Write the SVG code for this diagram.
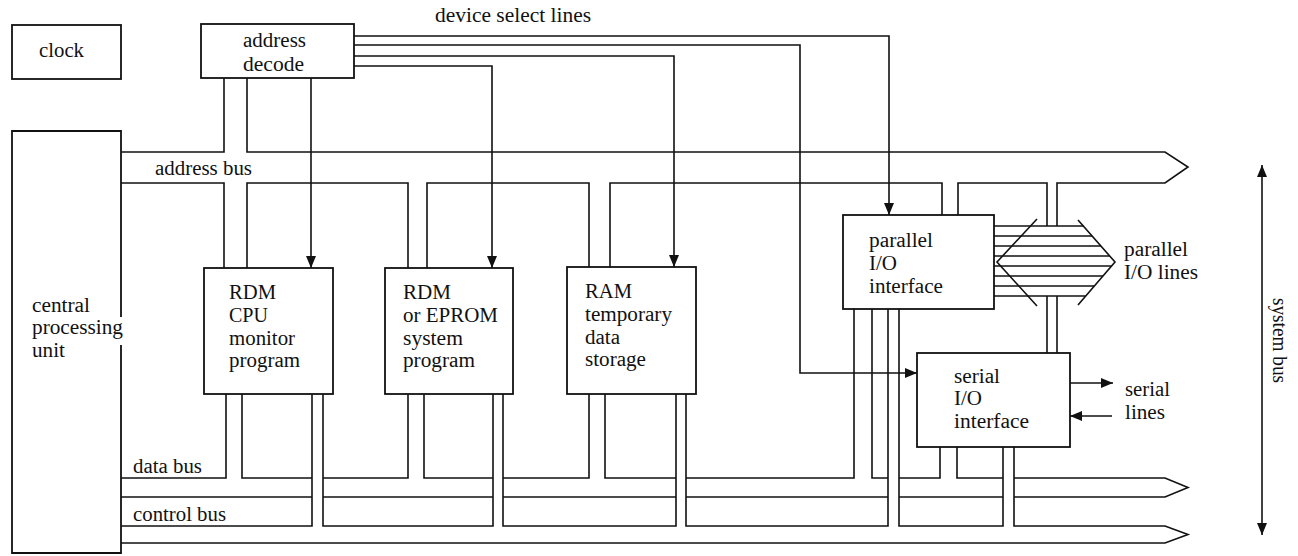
<svg xmlns="http://www.w3.org/2000/svg" width="1298" height="556" viewBox="0 0 1298 556">
<style>
.b{fill:#fff;stroke:#111;stroke-width:1.8}
.l{fill:none;stroke:#111;stroke-width:1.6;stroke-linejoin:miter}
.t{font-family:"Liberation Serif","Times New Roman",serif;font-size:20px;fill:#111}
</style>
<defs>
<marker id="ah" viewBox="0 0 12 10" refX="12" refY="5" markerWidth="12" markerHeight="10" markerUnits="userSpaceOnUse" orient="auto-start-reverse"><path d="M0,0 L12,5 L0,10 z" fill="#111"/></marker>
</defs>
<rect width="1298" height="556" fill="#fff"/>
<g id="connectors">
<!-- address bus -->
<polyline class="l" points="121,152 224,152 224,78"/>
<polyline class="l" points="247,78 247,152 1165,152 1188,167 1165,183 1057,183 1057,226"/>
<polyline class="l" points="121,183 224,183 224,268"/>
<polyline class="l" points="247,268 247,183 408,183 408,268"/>
<polyline class="l" points="427,268 427,183 589,183 589,267"/>
<polyline class="l" points="610,267 610,183 942,183 942,215"/>
<polyline class="l" points="958,215 958,183 1047,183 1047,226"/>
<line class="l" x1="1047" y1="296" x2="1047" y2="353"/>
<line class="l" x1="1057" y1="296" x2="1057" y2="353"/>
<!-- data bus -->
<polyline class="l" points="121,478 226,478 226,394"/>
<polyline class="l" points="242,394 242,478 312,478"/>
<polyline class="l" points="323,478 408,478 408,394"/>
<polyline class="l" points="424,394 424,478 493,478"/>
<polyline class="l" points="503,478 589,478 589,394"/>
<polyline class="l" points="605,394 605,478 676,478"/>
<polyline class="l" points="686,478 854,478 854,309"/>
<polyline class="l" points="872,309 872,478 888,478"/>
<polyline class="l" points="899,478 940,478 940,447"/>
<polyline class="l" points="957,447 957,478 1003,478"/>
<polyline class="l" points="1014,478 1165,478 1188,487.5 1165,497 1014,497"/>
<line class="l" x1="121" y1="497" x2="312" y2="497"/>
<line class="l" x1="323" y1="497" x2="493" y2="497"/>
<line class="l" x1="503" y1="497" x2="676" y2="497"/>
<line class="l" x1="686" y1="497" x2="888" y2="497"/>
<line class="l" x1="899" y1="497" x2="1003" y2="497"/>
<!-- control bus -->
<polyline class="l" points="121,526 312,526 312,394"/>
<polyline class="l" points="323,394 323,526 493,526 493,394"/>
<polyline class="l" points="503,394 503,526 676,526 676,394"/>
<polyline class="l" points="686,394 686,526 888,526 888,309"/>
<polyline class="l" points="899,309 899,526 1003,526 1003,447"/>
<polyline class="l" points="1014,447 1014,526 1165,526 1188,534.5 1165,543 121,543"/>
<!-- device select lines -->
<line class="l" x1="311" y1="78" x2="311" y2="268" marker-end="url(#ah)"/>
<polyline class="l" points="354,66 492,66 492,268" marker-end="url(#ah)"/>
<polyline class="l" points="354,56 674,56 674,267" marker-end="url(#ah)"/>
<polyline class="l" points="354,45 800,45 800,373 917,373" marker-end="url(#ah)"/>
<polyline class="l" points="354,36 889,36 889,215" marker-end="url(#ah)"/>
<!-- serial lines -->
<line class="l" x1="1070" y1="383" x2="1113" y2="383" marker-end="url(#ah)"/>
<line class="l" x1="1112" y1="416" x2="1070" y2="416" marker-end="url(#ah)"/>
<!-- system bus -->
<line class="l" x1="1262" y1="165" x2="1262" y2="535" marker-start="url(#ah)" marker-end="url(#ah)"/>
</g>
<g id="parallel-io-lines">
<polyline class="l" points="1037,219 997,262 1037,306"/>
<polyline class="l" points="1078,220 1115,262 1078,305"/>
<line class="l" x1="994" y1="226" x2="1083.3" y2="226"/>
<line class="l" x1="994" y1="236" x2="1092.1" y2="236"/>
<line class="l" x1="994" y1="246" x2="1100.9" y2="246"/>
<line class="l" x1="994" y1="256" x2="1109.7" y2="256"/>
<line class="l" x1="994" y1="266" x2="1111.6" y2="266"/>
<line class="l" x1="994" y1="276" x2="1103" y2="276"/>
<line class="l" x1="994" y1="286" x2="1094.3" y2="286"/>
<line class="l" x1="994" y1="296" x2="1085.7" y2="296"/>
</g>
<g id="clock">
<rect class="b" x="12" y="25" width="109" height="54"/>
<text class="t" x="39" y="57" textLength="45" lengthAdjust="spacingAndGlyphs">clock</text>
</g>
<g id="address-decode">
<rect class="b" x="201" y="24" width="153" height="54"/>
<text class="t" x="243" y="47" textLength="63" lengthAdjust="spacingAndGlyphs">address</text>
<text class="t" x="243" y="71" textLength="61" lengthAdjust="spacingAndGlyphs">decode</text>
</g>
<g id="cpu">
<path class="b" d="M121,317 V131 H12 V553 H121 V345"/>
<text class="t" x="32" y="312" textLength="58" lengthAdjust="spacingAndGlyphs">central</text>
<text class="t" x="32" y="334" textLength="91" lengthAdjust="spacingAndGlyphs">processing</text>
<text class="t" x="32" y="357" textLength="33" lengthAdjust="spacingAndGlyphs">unit</text>
</g>
<g id="rdm-cpu">
<rect class="b" x="204" y="268" width="129" height="126"/>
<text class="t" x="229" y="299" textLength="47" lengthAdjust="spacingAndGlyphs">RDM</text>
<text class="t" x="229" y="322" textLength="39" lengthAdjust="spacingAndGlyphs">CPU</text>
<text class="t" x="229" y="345" textLength="66" lengthAdjust="spacingAndGlyphs">monitor</text>
<text class="t" x="229" y="367" textLength="71" lengthAdjust="spacingAndGlyphs">program</text>
</g>
<g id="rdm-eprom">
<rect class="b" x="385" y="268" width="128" height="126"/>
<text class="t" x="403" y="299" textLength="48" lengthAdjust="spacingAndGlyphs">RDM</text>
<text class="t" x="403" y="322" textLength="95" lengthAdjust="spacingAndGlyphs">or EPROM</text>
<text class="t" x="403" y="345" textLength="60" lengthAdjust="spacingAndGlyphs">system</text>
<text class="t" x="403" y="367" textLength="72" lengthAdjust="spacingAndGlyphs">program</text>
</g>
<g id="ram">
<rect class="b" x="567" y="267" width="129" height="127"/>
<text class="t" x="585" y="298" textLength="47" lengthAdjust="spacingAndGlyphs">RAM</text>
<text class="t" x="585" y="321" textLength="87" lengthAdjust="spacingAndGlyphs">temporary</text>
<text class="t" x="585" y="344" textLength="35" lengthAdjust="spacingAndGlyphs">data</text>
<text class="t" x="585" y="366" textLength="61" lengthAdjust="spacingAndGlyphs">storage</text>
</g>
<g id="parallel-io">
<rect class="b" x="843" y="215" width="151" height="94"/>
<text class="t" x="869" y="247" textLength="64" lengthAdjust="spacingAndGlyphs">parallel</text>
<text class="t" x="869" y="270" textLength="28" lengthAdjust="spacingAndGlyphs">I/O</text>
<text class="t" x="869" y="293" textLength="74" lengthAdjust="spacingAndGlyphs">interface</text>
</g>
<g id="serial-io">
<rect class="b" x="917" y="353" width="153" height="94"/>
<text class="t" x="954" y="383" textLength="46" lengthAdjust="spacingAndGlyphs">serial</text>
<text class="t" x="954" y="405" textLength="28" lengthAdjust="spacingAndGlyphs">I/O</text>
<text class="t" x="954" y="428" textLength="75" lengthAdjust="spacingAndGlyphs">interface</text>
</g>
<g id="labels">
<text class="t" x="435" y="22" textLength="156" lengthAdjust="spacingAndGlyphs">device select lines</text>
<text class="t" x="155" y="175" textLength="97" lengthAdjust="spacingAndGlyphs">address bus</text>
<text class="t" x="133" y="473" textLength="69" lengthAdjust="spacingAndGlyphs">data bus</text>
<text class="t" x="133" y="521" textLength="93" lengthAdjust="spacingAndGlyphs">control bus</text>
<text class="t" x="1124" y="256" textLength="64" lengthAdjust="spacingAndGlyphs">parallel</text>
<text class="t" x="1124" y="279" textLength="74" lengthAdjust="spacingAndGlyphs">I/O lines</text>
<text class="t" x="1125" y="396" textLength="45" lengthAdjust="spacingAndGlyphs">serial</text>
<text class="t" x="1125" y="419" textLength="40" lengthAdjust="spacingAndGlyphs">lines</text>
<text class="t" transform="translate(1273,298) rotate(90)" textLength="85" lengthAdjust="spacingAndGlyphs">system bus</text>
</g>
</svg>
